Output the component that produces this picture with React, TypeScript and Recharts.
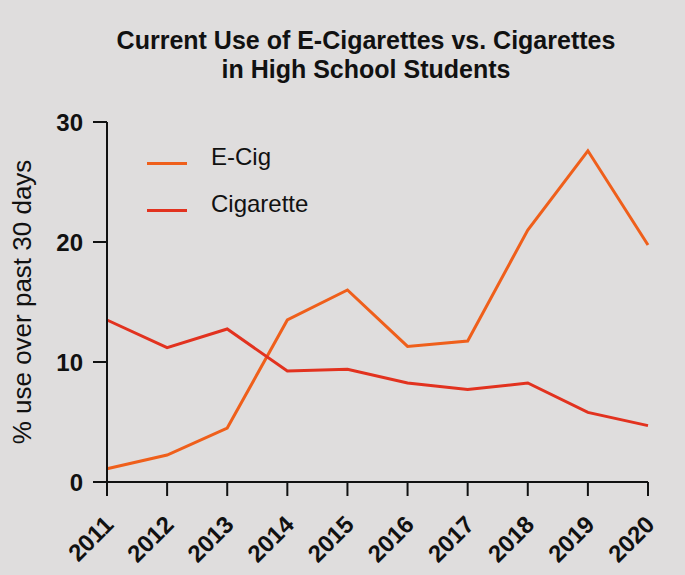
import React from 'react'
import { LineChart, Line, XAxis, YAxis } from 'recharts'

const years = ['2011', '2012', '2013', '2014', '2015', '2016', '2017', '2018', '2019', '2020']
const eCig = [1.1, 2.25, 4.5, 13.5, 16.0, 11.3, 11.75, 21.0, 27.6, 19.75]
const cigarette = [13.5, 11.2, 12.75, 9.25, 9.4, 8.25, 7.7, 8.25, 5.8, 4.7]
const yTicks = [0, 10, 20, 30]

const SERIES = [
  { key: 'eCig', label: 'E-Cig', color: '#ef5f1b' },
  { key: 'cigarette', label: 'Cigarette', color: '#e2321f' },
]

const data = years.map((year, i) => ({ year, eCig: eCig[i], cigarette: cigarette[i] }))

const FONT = '"Liberation Sans", Arial, Helvetica, sans-serif'

function XTick({ x, y, payload }: any) {
  // rotated year label, top-right corner sits just below the tick
  const ax = x + 2
  const ay = y + 22
  return (
    <text
      x={ax}
      y={ay}
      textAnchor="end"
      transform={`rotate(-45, ${ax}, ${ay})`}
      fontFamily={FONT}
      fontWeight="bold"
      fontSize={24}
      fill="#111"
      dominantBaseline="central"
    >
      {payload.value}
    </text>
  )
}

export default function App() {
  return (
    <div
      style={{
        position: 'absolute',
        left: 0,
        top: 0,
        width: 685,
        height: 575,
        background: '#dfdddd',
        fontFamily: FONT,
      }}
    >
      <div
        style={{
          position: 'absolute',
          left: 0,
          top: 26,
          width: 732,
          textAlign: 'center',
          fontWeight: 'bold',
          fontSize: 25,
          lineHeight: '29px',
          color: '#111',
        }}
      >
        Current Use of E-Cigarettes vs. Cigarettes
        <br />
        in High School Students
      </div>

      {/* legend */}
      <div style={{ position: 'absolute', left: 147, top: 140 }}>
        {SERIES.map((s) => (
          <div key={s.key} style={{ display: 'flex', alignItems: 'center', height: 47 }}>
            <span style={{ width: 40, height: 3, background: s.color, display: 'inline-block' }} />
            <span style={{ marginLeft: 24, fontSize: 24, color: '#111', marginTop: -14 }}>{s.label}</span>
          </div>
        ))}
      </div>

      <LineChart
        width={685}
        height={575}
        data={data}
        margin={{ top: 122, right: 37, bottom: 0, left: 0 }}
        style={{ position: 'absolute', left: 0, top: 0 }}
      >
        <XAxis
          dataKey="year"
          height={93}
          interval={0}
          tick={<XTick />}
          tickSize={14}
          axisLine={{ stroke: '#111', strokeWidth: 2 }}
          tickLine={{ stroke: '#111', strokeWidth: 2 }}
        />
        <YAxis
          width={107}
          domain={[0, 30]}
          ticks={yTicks}
          tickSize={14}
          tickMargin={10}
          axisLine={{ stroke: '#111', strokeWidth: 2 }}
          tickLine={{ stroke: '#111', strokeWidth: 2 }}
          tick={{ fill: '#111', fontSize: 24, fontWeight: 'bold', fontFamily: FONT }}
          label={{
            value: '% use over past 30 days',
            angle: -90,
            position: 'insideLeft',
            offset: 0,
            dx: 22,
            dy: 0,
            style: { fill: '#111', fontSize: 26, fontFamily: FONT, textAnchor: 'middle' },
          }}
        />
        {SERIES.map((s) => (
          <Line
            key={s.key}
            dataKey={s.key}
            type="linear"
            stroke={s.color}
            strokeWidth={3}
            dot={false}
            isAnimationActive={false}
          />
        ))}
      </LineChart>
    </div>
  )
}
